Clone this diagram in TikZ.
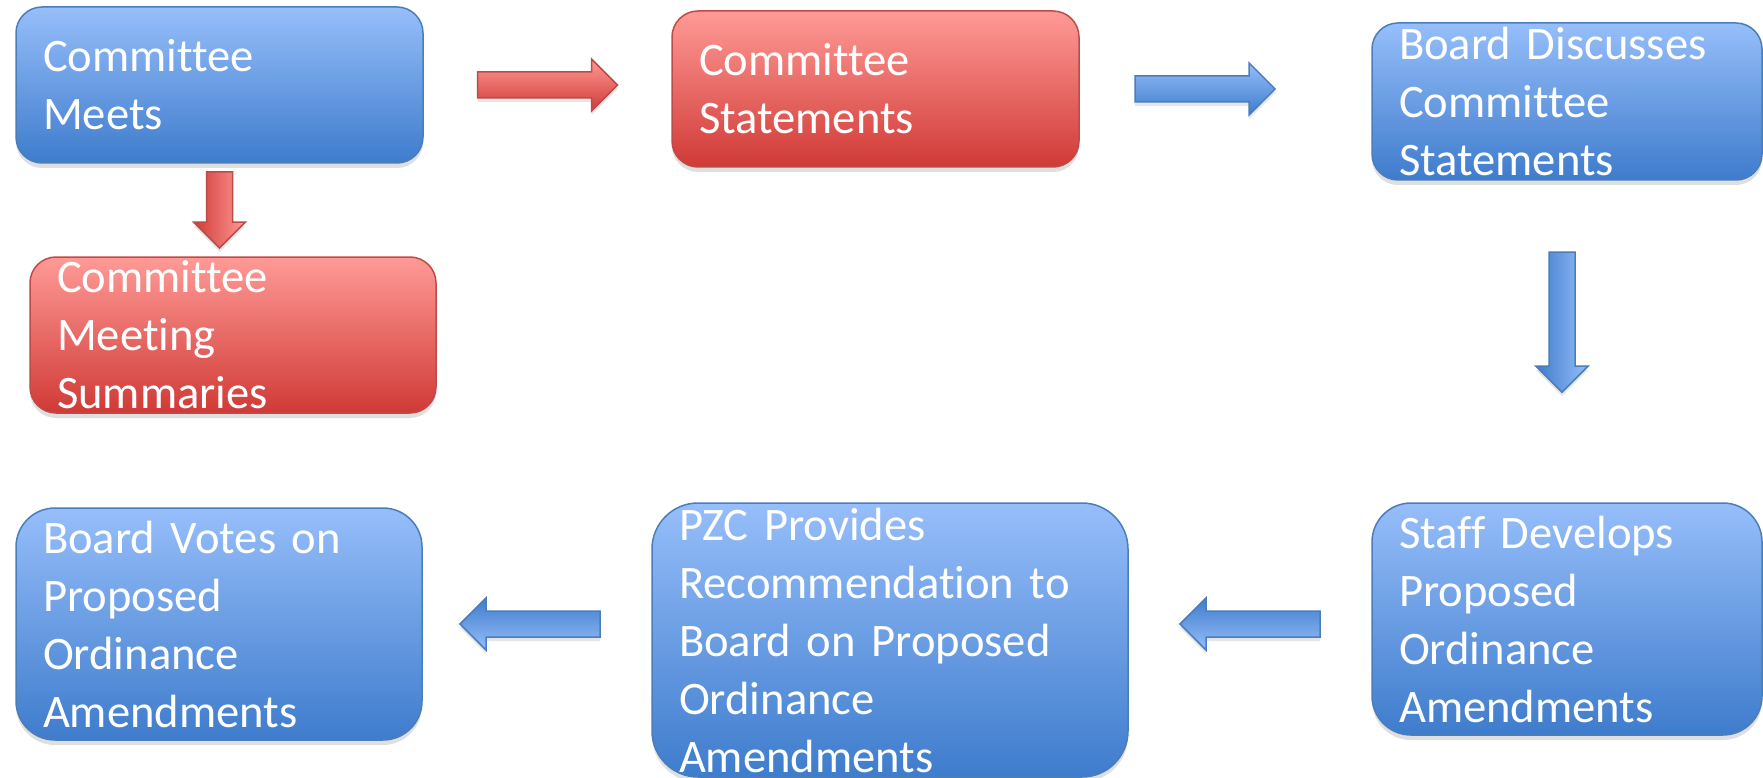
\documentclass[tikz,border=0pt]{standalone}
\usepackage{fontspec}
\setmainfont{Carlito}[Ligatures={NoCommon}]
\usetikzlibrary{calc,shadows}

\definecolor{bluetop}{RGB}{150,190,250}
\definecolor{bluebot}{RGB}{62,124,204}
\definecolor{blueline}{RGB}{74,126,187}
\definecolor{redtop}{RGB}{255,154,150}
\definecolor{redbot}{RGB}{208,58,54}
\definecolor{redline}{RGB}{190,75,72}

\tikzset{
  box/.style={draw, line width=1.5pt, text=white, align=left,
    inner xsep=27pt, inner ysep=0pt,
    font=\fontsize{46.6}{58}\selectfont,
    drop shadow={shadow xshift=0pt, shadow yshift=-5pt, opacity=0.25}},
  bluebox/.style={box, draw=blueline, top color=bluetop, bottom color=bluebot},
  redbox/.style={box, draw=redline, top color=redtop, bottom color=redbot},
  arr/.style={line width=1.5pt, drop shadow={shadow xshift=0pt, shadow yshift=-4pt, opacity=0.2}},
  redright/.style={arr, draw=redline, top color=redtop, bottom color=redbot},
  reddown/.style={arr, draw=redline, left color=redbot, right color=redtop},
  blueright/.style={arr, draw=blueline, top color=bluetop, bottom color=bluebot},
  bluedown/.style={arr, draw=blueline, left color=bluebot, right color=bluetop},
  blueleft/.style={arr, draw=blueline, top color=bluebot, bottom color=bluetop}
}

% block arrow: style, centre, direction, length
\newcommand\blockarrow[4]{%
  \path[#1, shift={#2}, rotate=#3] (-#4/2,-13) -- (#4/2-26,-13) -- (#4/2-26,-26)
    -- (#4/2,0) -- (#4/2-26,26) -- (#4/2-26,13) -- (-#4/2,13) -- cycle;}

\begin{document}
\begin{tikzpicture}[x=1pt, y=-1pt]

    \useasboundingbox (0,0) rectangle (1763,778);

    % top row
    \node[bluebox, minimum width=407pt, minimum height=156pt, text width=353pt, rounded corners=26pt]
        (meets) at (219.5,85) {Committee\\Meets};
    \node[redbox, minimum width=407pt, minimum height=156pt, text width=353pt, rounded corners=26pt]
        (cstate) at (875.5,89) {Committee\\Statements};
    \node[bluebox, minimum width=390pt, minimum height=157pt, text width=336pt, rounded corners=26pt]
        (bdisc) at (1567,101.5) {Board Discusses\\Committee\\Statements};
    \node[redbox, minimum width=406pt, minimum height=156pt, text width=352pt, rounded corners=26pt]
        (summ) at (233,335) {Committee\\Meeting\\Summaries};

    % bottom row
    \node[bluebox, minimum width=406pt, minimum height=232pt, text width=352pt, rounded corners=39pt]
        (bvotes) at (219,624) {Board Votes on\\Proposed\\Ordinance\\Amendments};
    \node[bluebox, minimum width=476pt, minimum height=274pt, text width=422pt, rounded corners=46pt]
        (pzc) at (890,640) {PZC Provides\\Recommendation to\\Board on Proposed\\Ordinance\\Amendments};
    \node[bluebox, minimum width=390pt, minimum height=232pt, text width=336pt, rounded corners=39pt]
        (staff) at (1567,619) {Staff Develops\\Proposed\\Ordinance\\Amendments};

    % arrows
    \blockarrow{redright}{($(meets.east)!0.5!(meets.east -| cstate.west)$)}{0}{140}
    \blockarrow{reddown}{($(meets.south)!0.5!(meets.south |- summ.north)$)}{-90}{76}
    \blockarrow{blueright}{($(cstate.east)!0.43!(cstate.east -| bdisc.west)$)}{0}{140}
    \blockarrow{bluedown}{($(bdisc.south)!0.44!(staff.north)+(-5,0)$)}{-90}{140}
    \blockarrow{blueleft}{($(staff.west |- bvotes.east)!0.5!(pzc.east |- bvotes.east)$)}{180}{140}
    \blockarrow{blueleft}{($(pzc.west |- bvotes.east)!0.5!(bvotes.east)+(-7,0)$)}{180}{140}

\end{tikzpicture}
\end{document}
